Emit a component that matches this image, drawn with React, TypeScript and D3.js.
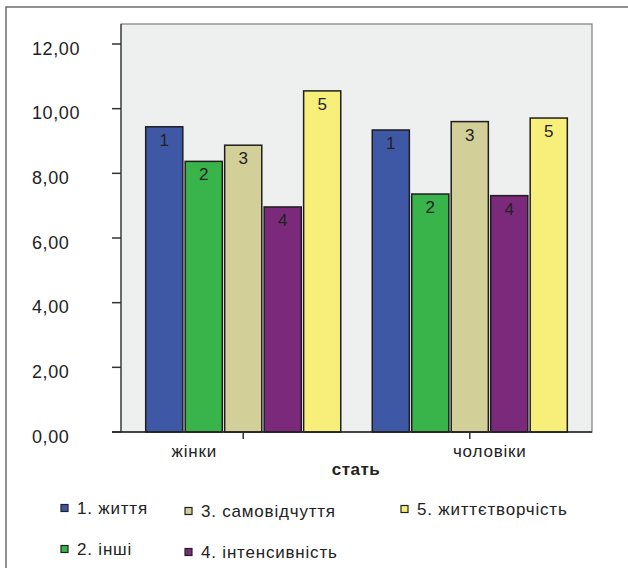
import * as d3 from "d3";

const W = 628;
const H = 568;

// categories on the x axis
const genders = ["жінки", "чоловіки"];
// series (bar groups)
const seriesNames = [
  "1. життя",
  "2. інші",
  "3. самовідчуття",
  "4. інтенсивність",
  "5. життєтворчість",
];
const seriesLabels = ["1", "2", "3", "4", "5"];
// mean values: [жінки, чоловіки]
const values1 = [9.44, 9.34];
const values2 = [8.37, 7.36];
const values3 = [8.87, 9.6];
const values4 = [6.96, 7.31];
const values5 = [10.55, 9.71];
const yTicks = [0, 2, 4, 6, 8, 10, 12];

const colors = ["#3f58a6", "#39b44a", "#d3cf98", "#7b2a7b", "#f8ef7a"];
const font = "'Liberation Sans', Arial, Helvetica, sans-serif";

const allValues = [values1, values2, values3, values4, values5];

// plot frame
const plotLeft = 121;
const plotRight = 592;
const plotBottom = 432;

// legend layout (SPSS places items in uneven columns)
const legendCols = [61, 185, 401];
const legendRows = [508, 549];
const legendColShift = [0, 3, 1];
const legendPos = [
  [0, 0],
  [0, 1],
  [1, 0],
  [1, 1],
  [2, 0],
];
// category labels are not centred under their tick in the original
const catLabelShift = [-49, 20];

const App = () => {
  const y = d3.scaleLinear().domain([0, 12]).range([plotBottom, 44]);
  const plotTop = y(12) - 20;

  const x0 = d3
    .scaleBand<string>()
    .domain(genders)
    .range([plotLeft, plotRight])
    .paddingInner(0.139)
    .paddingOuter(0.109);

  const x1 = d3
    .scaleBand<string>()
    .domain(seriesNames)
    .range([0, x0.bandwidth()])
    .paddingInner(0.06);

  const bars = genders.flatMap((g, gi) =>
    seriesNames.map((s, si) => {
      const v = allValues[si][gi];
      const bx = (x0(g) ?? 0) + (x1(s) ?? 0);
      return (
        <g key={g + s}>
          <rect
            x={bx}
            y={y(v)}
            width={x1.bandwidth()}
            height={y(0) - y(v)}
            fill={colors[si]}
            stroke="#1e1e1e"
            strokeWidth={1.5}
          />
          <text
            x={bx + x1.bandwidth() / 2}
            y={y(v) + 19}
            textAnchor="middle"
            fontSize={17}
            fill="#222"
          >
            {seriesLabels[si]}
          </text>
        </g>
      );
    })
  );

  return (
    <div style={{ position: "fixed", left: 0, top: 0 }}>
      <svg width={W} height={H} style={{ display: "block", fontFamily: font }}>
        <rect width={W} height={H} fill="#fff" />
        {/* outer frame, clipped at the right and bottom */}
        <rect x={6} y={7} width={W + 20} height={H + 20} fill="none" stroke="#555" strokeWidth={1.3} />

        {/* plot background */}
        <rect
          x={plotLeft}
          y={plotTop}
          width={plotRight - plotLeft}
          height={plotBottom - plotTop}
          fill="#eef0ef"
          stroke="#666"
          strokeWidth={1}
        />

        {bars}

        {/* y axis */}
        <line x1={plotLeft} x2={plotLeft} y1={plotTop} y2={plotBottom} stroke="#444" strokeWidth={1.3} />
        {yTicks.map((t) => (
          <g key={t}>
            <line x1={112} x2={plotLeft} y1={y(t)} y2={y(t)} stroke="#333" strokeWidth={1.5} />
            <text x={32} y={y(t) + 10.5} fontSize={18} letterSpacing={0.6} fill="#222">
              {d3.format(".2f")(t).replace(".", ",")}
            </text>
          </g>
        ))}

        {/* x axis */}
        <line x1={112} x2={plotRight} y1={plotBottom} y2={plotBottom} stroke="#222" strokeWidth={1.5} />
        {genders.map((g, gi) => {
          const cx = (x0(g) ?? 0) + x0.bandwidth() / 2;
          return (
            <g key={g}>
              <line x1={cx} x2={cx} y1={plotBottom} y2={plotBottom + 7} stroke="#333" strokeWidth={1.5} />
              <text
                x={cx + catLabelShift[gi]}
                y={plotBottom + 25}
                textAnchor="middle"
                fontSize={17}
                letterSpacing={0.8}
                fill="#222"
              >
                {g}
              </text>
            </g>
          );
        })}
        <text x={356} y={475} textAnchor="middle" fontSize={17} fontWeight="bold" letterSpacing={0.5} fill="#222">
          стать
        </text>

        {/* legend */}
        {seriesNames.map((s, si) => {
          const [c, r] = legendPos[si];
          const lx = legendCols[c];
          const ly = legendRows[r] + legendColShift[c];
          return (
            <g key={s}>
              <rect x={lx} y={ly - 3.5} width={7} height={7} fill={colors[si]} stroke="#222" strokeWidth={1.2} />
              <text x={lx + 16} y={ly + 6} fontSize={17} letterSpacing={0.8} fill="#222">
                {s}
              </text>
            </g>
          );
        })}
      </svg>
    </div>
  );
};

export default App;
